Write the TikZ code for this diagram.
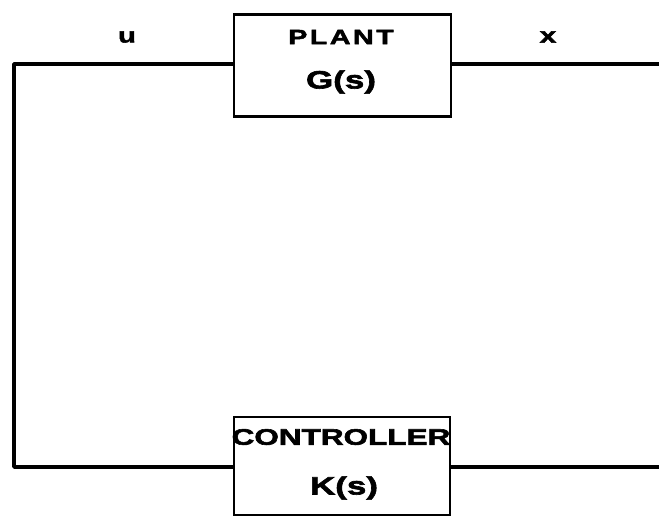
\documentclass[tikz,border=0pt]{standalone}
\usepackage{fontspec}
\newfontfamily\lbl[FakeStretch=1.4,FakeBold=2.5]{Liberation Sans Bold}
\newfontfamily\lblsp[FakeStretch=1.4,FakeBold=2.5,LetterSpace=12]{Liberation Sans Bold}
\begin{document}
\begin{tikzpicture}[x=1pt,y=-1pt,
  blockbox/.style={draw,line width=2.8pt,inner sep=0pt,minimum width=217pt,minimum height=102pt},
  txt/.style={inner sep=0pt,anchor=center},
  wire/.style={line width=3.8pt,line join=round}]
\useasboundingbox (0,0) rectangle (659,520);
\node[blockbox] (plant) at (342.5,65.5) {};
\node[blockbox,minimum width=216pt,minimum height=98pt] (ctrl) at (342,466) {};
\node[txt] (plantname) at (341,37) {\fontsize{20.5}{22}\lblsp PLANT};
\node[txt] (gs) at (341,82) {\fontsize{25}{27}\lbl G(s)};
\node[txt] (ctrlname) at (341,437) {\fontsize{22.5}{24}\lbl CONTROLLER};
\node[txt] (ks) at (344,488) {\fontsize{25}{27}\lbl K(s)};
\node[txt] (ulab) at (127,37) {\fontsize{21}{23}\lbl u};
\node[txt] (xlab) at (548,37) {\fontsize{21}{23}\lbl x};
\coordinate (tl) at (14,64);
\coordinate (bl) at (14,467);
\coordinate (tr) at (659,64);
\coordinate (br) at (659,467);
\draw[wire] (plant.west |- tl) -- (tl) -- (bl) -- (ctrl.west |- bl);
\draw[wire] (plant.east |- tr) -- (tr);
\draw[wire] (ctrl.east |- br) -- (br);
\end{tikzpicture}
\end{document}
